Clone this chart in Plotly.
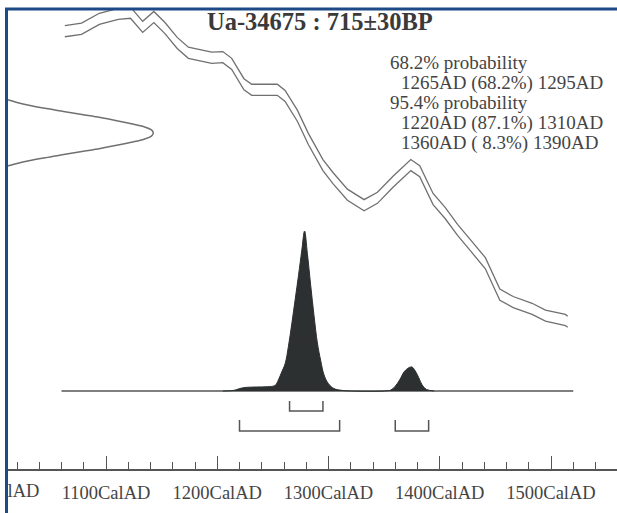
import plotly.graph_objects as go

W, H = 617, 513

# ---------------- data ----------------
title_text = "Ua-34675 : 715±30BP"
prob_lines = [
    ("68.2% probability", 0),
    ("1265AD (68.2%) 1295AD", 1),
    ("95.4% probability", 0),
    ("1220AD (87.1%) 1310AD", 1),
    ("1360AD ( 8.3%) 1390AD", 1),
]
tick_years = [1000, 1100, 1200, 1300, 1400, 1500]
tick_labels = ["1000CalAD", "1100CalAD", "1200CalAD", "1300CalAD", "1400CalAD", "1500CalAD"]

# calibration curve: centre (BP) and 1-sigma half width (BP)
cal_year = [1063, 1078, 1094, 1111, 1122, 1133, 1143, 1153, 1164, 1174, 1195, 1205, 1213, 1224,
            1231, 1254, 1261, 1272, 1282, 1295, 1304, 1317, 1332, 1344, 1358, 1374, 1382, 1394,
            1405, 1416, 1429, 1436, 1441, 1454, 1466, 1483, 1495, 1513, 1515]
cal_bp = [880, 884, 900, 908, 910, 887, 903, 885, 861, 845, 837, 838, 827, 794,
          785, 785, 775, 743, 705, 663, 642, 615, 598, 610, 636, 663, 653, 608,
          585, 558, 530, 515, 504, 453, 441, 430, 419, 412, 409]
cal_err = 9

# measured radiocarbon date (relative density vs BP)
meas_bp = [660, 665, 670, 675, 680, 685, 690, 695, 700, 705, 710, 715,
           720, 725, 730, 735, 740, 745, 750, 755, 760, 765, 770]
meas_dens = [0.19, 0.25, 0.32, 0.41, 0.51, 0.61, 0.71, 0.80, 0.88, 0.95, 0.99, 1.00,
             0.99, 0.95, 0.88, 0.80, 0.71, 0.61, 0.51, 0.41, 0.32, 0.25, 0.19]

# calibrated probability distribution
post_year = [1205, 1215, 1220, 1225, 1235, 1245, 1252, 1255, 1258, 1261, 1264, 1267, 1270, 1273, 1276,
             1278.5, 1281, 1284, 1287, 1290, 1293, 1296, 1300, 1305, 1312, 1320,
             1350, 1356, 1360, 1364, 1368, 1372, 1375, 1378, 1381, 1384, 1388, 1395]
post_prob = [0, 0.004, 0.015, 0.022, 0.025, 0.027, 0.035, 0.07, 0.12, 0.17, 0.28, 0.42, 0.57, 0.72, 0.88,
             1.0, 0.86, 0.66, 0.47, 0.30, 0.19, 0.10, 0.045, 0.015, 0.004, 0,
             0, 0.006, 0.03, 0.07, 0.12, 0.145, 0.15, 0.125, 0.085, 0.04, 0.01, 0]
baseline_years = [1060, 1520]

# ranges
range_68 = [(1265, 1295)]
range_95 = [(1220, 1310), (1360, 1390)]

# ---------------- geometry ----------------
PX_PER_YEAR = 1.1125
def px_x_to_year(px):
    return 1100 + (px - 106) / PX_PER_YEAR

X0, X1 = px_x_to_year(0), px_x_to_year(W)
BP_PER_PX = 1 / 0.617
BP_TOP = 715 + 133 * BP_PER_PX
BP_BOT = 715 - (H - 133) * BP_PER_PX
P_PER_PX = 1 / 160.0
P_TOP = 391 * P_PER_PX
P_BOT = -(H - 391) * P_PER_PX

meas_base_year, meas_amp_year = 978, 164.5

def py(p):  # pixel y -> paper
    return 1 - p / H

def px(p):
    return p / W

SERIF = "Liberation Serif, Times New Roman, Tinos, serif"
GREY = "#707070"
fig = go.Figure()

fig.add_trace(go.Scatter(x=cal_year, y=[b + cal_err for b in cal_bp], mode="lines",
                         line=dict(color=GREY, width=1.3), yaxis="y", hoverinfo="skip"))
fig.add_trace(go.Scatter(x=cal_year, y=[b - cal_err for b in cal_bp], mode="lines",
                         line=dict(color=GREY, width=1.3), yaxis="y", hoverinfo="skip"))
fig.add_trace(go.Scatter(x=[meas_base_year + meas_amp_year * d for d in meas_dens], y=meas_bp,
                         mode="lines", line=dict(color=GREY, width=1.5, shape="spline"),
                         yaxis="y", hoverinfo="skip"))
fig.add_trace(go.Scatter(x=baseline_years, y=[0, 0], mode="lines",
                         line=dict(color="#555555", width=1.5), yaxis="y2", hoverinfo="skip"))
fig.add_trace(go.Scatter(x=post_year, y=post_prob, mode="lines", fill="tozeroy",
                         fillcolor="#2c3031", line=dict(color="#2c3031", width=1, shape="spline"),
                         yaxis="y2", hoverinfo="skip"))
# first tick label lies partly outside the window; drawn as clipped trace text
fig.add_trace(go.Scatter(x=[tick_years[0]], y=[(391 - 492) * P_PER_PX], mode="text",
                         text=[tick_labels[0]], textposition="middle center", cliponaxis=True,
                         textfont=dict(family=SERIF, size=18.5, color="#444444"),
                         yaxis="y2", hoverinfo="skip"))

shapes = []
def bracket(a, b, top, bot):
    shapes.append(dict(type="path", xref="x", yref="paper",
                       path=f"M {a} {py(top)} L {a} {py(bot)} L {b} {py(bot)} L {b} {py(top)}",
                       line=dict(color="#555555", width=1.5)))
for a, b in range_68:
    bracket(a, b, 401, 411)
for a, b in range_95:
    bracket(a, b, 420, 431)

# frame (blue border, top and left)
BLUE = "#1d4a86"
shapes.append(dict(type="rect", xref="paper", yref="paper", x0=0, x1=1, y0=py(8), y1=1,
                   fillcolor="white", line=dict(width=0), layer="above"))
shapes.append(dict(type="rect", xref="paper", yref="paper", x0=0, x1=px(5), y0=0, y1=1,
                   fillcolor="white", line=dict(width=0), layer="above"))
shapes.append(dict(type="line", xref="paper", yref="paper", x0=px(5), x1=1, y0=py(9), y1=py(9),
                   line=dict(color=BLUE, width=3), layer="above"))
shapes.append(dict(type="line", xref="paper", yref="paper", x0=px(6.5), x1=px(6.5), y0=0, y1=py(8),
                   line=dict(color=BLUE, width=3), layer="above"))

annotations = [dict(text=f"<b>{title_text}</b>", x=px(205), y=py(21), xref="paper", yref="paper",
                    xanchor="left", yanchor="middle", showarrow=False,
                    font=dict(family=SERIF, size=24.5, color="#3a3a3a"))]
for i, (t, ind) in enumerate(prob_lines):
    annotations.append(dict(text=t, x=px(388 + 11 * ind), y=py(63 + 20 * i), xref="paper", yref="paper",
                            xanchor="left", yanchor="middle", showarrow=False,
                            font=dict(family=SERIF, size=19, color="#444444")))

fig.update_layout(
    width=W, height=H, margin=dict(l=0, r=0, t=0, b=0),
    paper_bgcolor="white", plot_bgcolor="white", showlegend=False,
    xaxis=dict(range=[X0, X1], anchor="free", position=1 - 470 / H,
               showline=True, linecolor="#555555", linewidth=1.5, showgrid=False, zeroline=False,
               tickvals=tick_years, ticktext=tick_labels, ticks="inside", ticklen=13,
               tickcolor="#555555", tickwidth=1.3, ticklabelstandoff=6,
               tickfont=dict(family=SERIF, size=18.5, color="#444444"),
               minor=dict(dtick=20, tick0=1000, ticks="inside", ticklen=7,
                          tickcolor="#555555", tickwidth=1.2)),
    yaxis=dict(range=[BP_BOT, BP_TOP], visible=False),
    yaxis2=dict(range=[P_BOT, P_TOP], visible=False, overlaying="y"),
    shapes=shapes, annotations=annotations,
)
fig.write_html("out.html")
